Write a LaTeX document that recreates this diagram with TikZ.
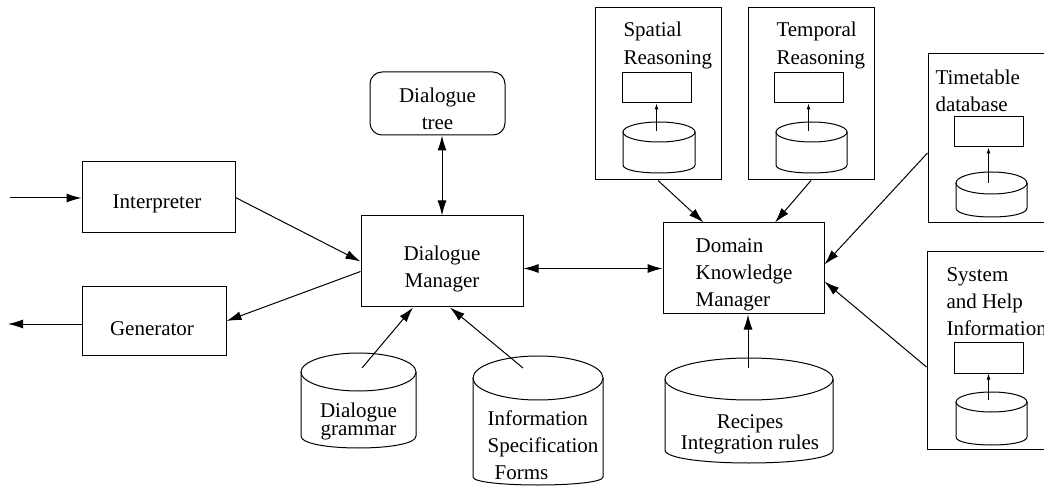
\documentclass[tikz,border=0pt]{standalone}
\usepackage{fontspec}
\setmainfont{Liberation Serif}
\usetikzlibrary{arrows.meta,calc}
\newcommand{\mycyl}[6]{%
  \draw (#1,#2) ellipse [x radius=#3, y radius=#4];
  \draw ({#1-#3},#2) -- ({#1-#3},{#2+#5}) .. controls ({#1-#3},{#2+#5+#6*4/3}) and ({#1+#3},{#2+#5+#6*4/3}) .. ({#1+#3},{#2+#5}) -- ({#1+#3},#2);
}
\begin{document}
\begin{tikzpicture}[x=0.5pt,y=-0.5pt,
  every node/.style={font=\fontsize{10.5}{13.5}\selectfont},
  box/.style={draw, line width=0.5pt, inner sep=0pt},
  txt/.style={inner sep=0pt, align=center},
  lbl/.style={anchor=west, inner sep=0pt, align=left},
  conn/.style={line width=0.5pt, -{Latex[length=7.5pt,width=4.5pt]}},
  bconn/.style={line width=0.5pt, {Latex[length=7.5pt,width=4.5pt]}-{Latex[length=7.5pt,width=4.5pt]}},
  sconn/.style={line width=0.5pt, -{Latex[length=3pt,width=2pt]}},
  line width=0.5pt]
\clip (0,0) rectangle (1044,486);

% main boxes
\node[box, minimum width=76.5pt, minimum height=35.5pt] (interp) at (158.5,197.5) {};
\node[box, minimum width=72pt, minimum height=34pt] (gen) at (154,321) {};
\node[box, minimum width=81pt, minimum height=45.5pt] (dm) at (442,261.5) {};
\node[box, rounded corners=6pt, minimum width=67.5pt, minimum height=31.5pt] (dt) at (437.5,103.5) {};
\node[box, minimum width=80.5pt, minimum height=45.5pt] (dkm) at (743.5,268.5) {};

\node[txt] (interpl) at (157,204) {Interpreter};
\node[txt] (genl) at (152,329) {Generator};
\node[txt] (dml) at (442,268.5) {Dialogue\\Manager};
\node[txt] (dtl) at (437.5,108.5) {Dialogue\\tree};
\node[txt, align=left] (dkml) at (744,274.5) {Domain\\Knowledge\\Manager};

% outer knowledge boxes
\node[box, minimum width=63pt, minimum height=86pt] (spat) at (658,94) {};
\node[box, minimum width=63pt, minimum height=86pt] (temp) at (811,94) {};
\node[box, minimum width=71pt, minimum height=84.5pt] (tt) at (999,138.5) {};
\node[box, minimum width=71.5pt, minimum height=98.5pt] (sys) at (998.5,350.5) {};

\node[lbl] (spatl) at (623,45) {Spatial\\[0.5pt]Reasoning};
\node[lbl] (templ) at (776,45) {Temporal\\[0.5pt]Reasoning};
\node[lbl] (ttl) at (935,90.5) {Timetable\\database};
\node[lbl] (sysl) at (946,302) {System\\and Help\\Information};

% inner rectangles
\node[box, minimum width=34.5pt, minimum height=15pt] (spatr) at (656.5,88) {};
\node[box, minimum width=34.5pt, minimum height=15pt] (tempr) at (808.5,88) {};
\node[box, minimum width=34.5pt, minimum height=15pt] (ttr) at (988.5,132) {};
\node[box, minimum width=34.5pt, minimum height=15.5pt] (sysr) at (988.5,357.5) {};

% cylinders
\mycyl{659}{132}{36}{10}{33}{8}
\mycyl{811.5}{132}{35.5}{10}{33}{8}
\mycyl{991.5}{183}{35.5}{11}{25}{9}
\mycyl{991.5}{402}{35.5}{10}{35}{8}
\mycyl{358.5}{372}{57.5}{19}{64}{12}
\mycyl{538}{378}{65}{22}{99}{8}
\mycyl{749}{379}{84}{21}{71}{13}

\node[txt] (dgl) at (358.5,421) {Dialogue\\[-4.5pt]grammar};
\node[txt, align=left] (isl) at (543,445.5) {Information\\Specification\\\hspace{3.5pt}Forms};
\node[txt] (recl) at (750,434.5) {Recipes\\[-3pt]Integration rules};

% inner connectors
\coordinate (spatc) at (656.5,131);
\coordinate (tempc) at (808.5,131);
\coordinate (ttc) at (988.5,183);
\coordinate (sysc) at (988.5,400);
\draw[sconn] (spatc) -- (spatr.south);
\draw[sconn] (tempc) -- (tempr.south);
\draw[sconn] (ttc) -- (ttr.south);
\draw[sconn] (sysc) -- (sysr.south);

% main connectors
\coordinate (in) at (10,198);
\coordinate (out) at (8,324);
\draw[conn] (in) -- (in -| interp.west);
\draw[conn] (out -| gen.west) -- (out);
\draw[conn] (interp.east) -- (dm.west);
\draw[conn] ($(dm.west)+(0,10)$) -- (gen.east);
\draw[bconn] (dm.north |- dt.south) -- (dm.north);
\draw[bconn] (dm.east |- dkm.west) -- (dkm.west);
\coordinate (dgc) at (362,368);
\coordinate (isc) at (523,368);
\coordinate (recc) at (748,368);
\draw[conn] (dgc) -- ($(dm.south)+(-29,0)$);
\draw[conn] (isc) -- ($(dm.south)+(8,0)$);
\draw[conn] (recc) -- (recc |- dkm.south);
\draw[conn] (spat.south) -- ($(dkm.north)+(-40,0)$);
\draw[conn] (temp.south) -- ($(dkm.north)+(31.5,0)$);
\draw[conn] ($(tt.west)+(0,14.5)$) -- ($(dkm.east)+(0,-4)$);
\draw[conn] ($(sys.west)+(0,16.5)$) -- ($(dkm.east)+(0,13)$);
\end{tikzpicture}
\end{document}
